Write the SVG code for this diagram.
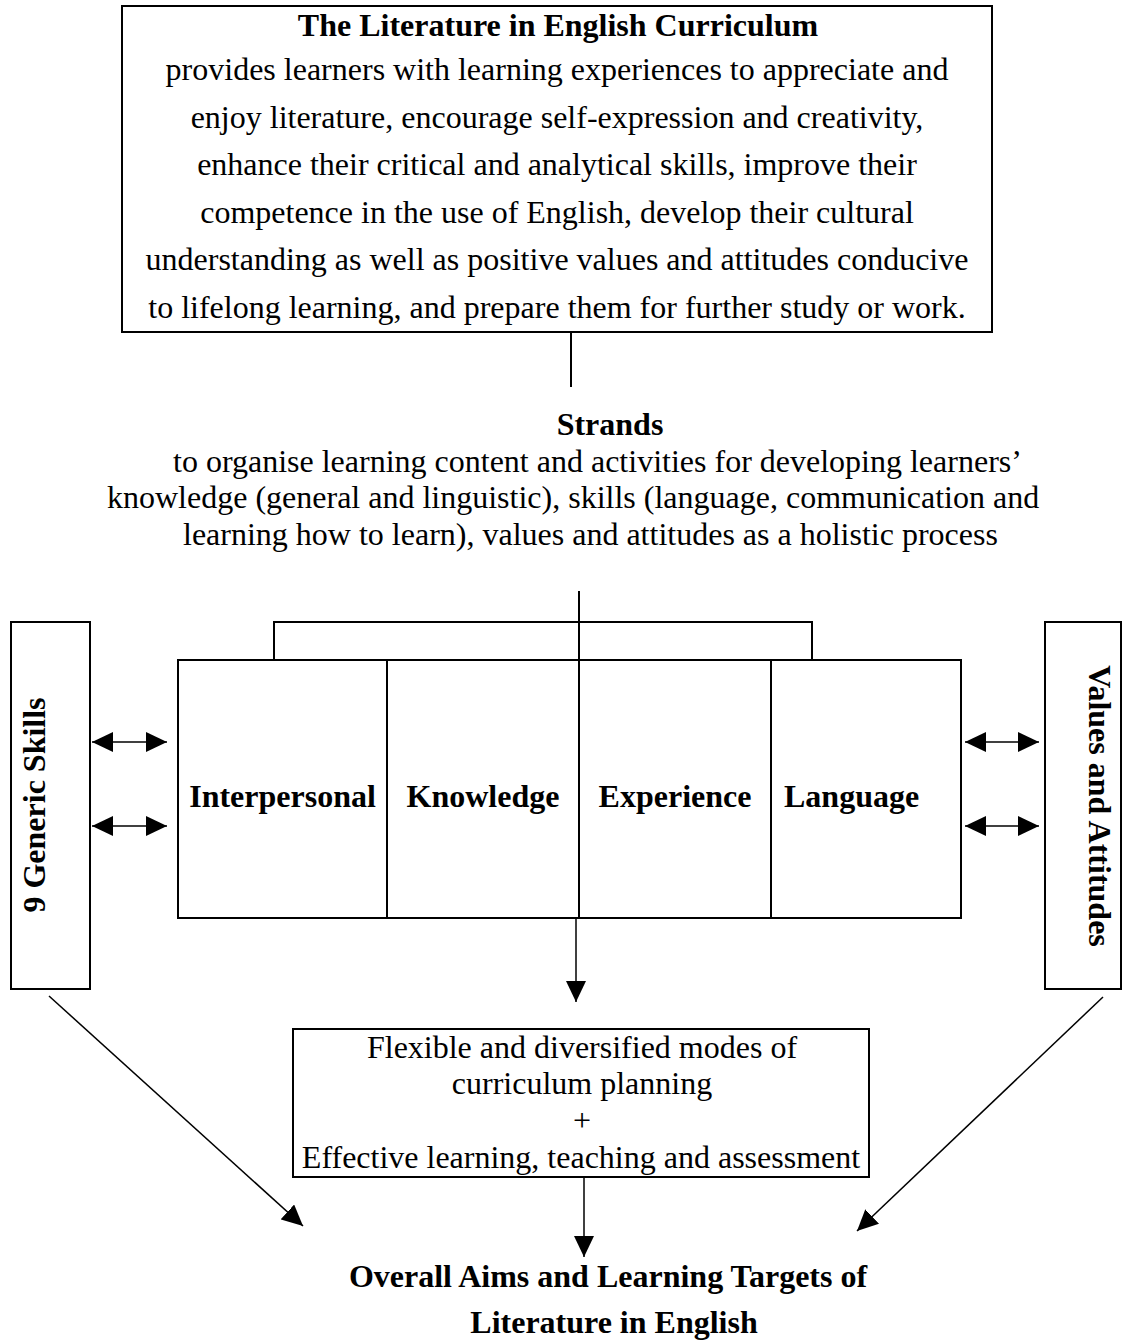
<svg xmlns="http://www.w3.org/2000/svg" width="1122" height="1341" viewBox="0 0 1122 1341">
<style>
  .box { fill: #fff; stroke: #000; stroke-width: 2; }
  .ln { fill: none; stroke: #000; stroke-width: 2; }
  .con { fill: none; stroke: #000; stroke-width: 1.5; }
  .t { font-family: "Liberation Serif", "Times New Roman", serif; font-size: 32px; fill: #000; }
  .b { font-weight: bold; }
  .m { text-anchor: middle; }
</style>
<defs>
  <marker id="ah" markerUnits="userSpaceOnUse" markerWidth="22" markerHeight="20" refX="21" refY="10" orient="auto-start-reverse" viewBox="0 0 22 20">
    <path d="M0,0 L21,10 L0,20 z" fill="#000"/>
  </marker>
</defs>
<rect width="1122" height="1341" fill="#fff"/>

<g id="curriculum">
  <rect class="box" x="122" y="6" width="870" height="326"/>
  <text class="t b m" x="558" y="36">The Literature in English Curriculum</text>
  <text class="t m" x="557" y="80">provides learners with learning experiences to appreciate and</text>
  <text class="t m" x="557" y="127.6">enjoy literature, encourage self-expression and creativity,</text>
  <text class="t m" x="557" y="175.2">enhance their critical and analytical skills, improve their</text>
  <text class="t m" x="557" y="222.8">competence in the use of English, develop their cultural</text>
  <text class="t m" x="557" y="270.4">understanding as well as positive values and attitudes conducive</text>
  <text class="t m" x="557" y="318">to lifelong learning, and prepare them for further study or work.</text>
</g>

<g id="strands">
  <text class="t b m" x="610" y="435">Strands</text>
  <text class="t" x="173" y="472">to organise learning content and activities for developing learners’</text>
  <text class="t" x="107" y="508">knowledge (general and linguistic), skills (language, communication and</text>
  <text class="t" x="183" y="545">learning how to learn), values and attitudes as a holistic process</text>
</g>

<g id="generic-skills">
  <rect class="box" x="11" y="622" width="79" height="367"/>
  <text class="t b m" x="45" y="805" transform="rotate(-90 45 805)">9 Generic Skills</text>
</g>

<g id="values-attitudes">
  <rect class="box" x="1045" y="622" width="76" height="367"/>
  <text class="t b m" x="1089" y="806" transform="rotate(90 1089 806)">Values and Attitudes</text>
</g>

<g id="strand-block">
  <rect class="box" x="178" y="660" width="783" height="258"/>
  <line class="ln" x1="387" y1="660" x2="387" y2="918"/>
  <line class="ln" x1="771" y1="660" x2="771" y2="918"/>
  <g id="interpersonal"><text class="t b m" x="282.5" y="807">Interpersonal</text></g>
  <g id="knowledge"><text class="t b m" x="483" y="807">Knowledge</text></g>
  <g id="experience"><text class="t b m" x="675" y="807">Experience</text></g>
  <g id="language"><text class="t b" x="784" y="807">Language</text></g>
</g>

<g id="modes">
  <rect class="box" x="293" y="1029" width="576" height="148"/>
  <text class="t m" x="582" y="1058">Flexible and diversified modes of</text>
  <text class="t m" x="582" y="1094">curriculum planning</text>
  <text class="t m" x="582" y="1131">+</text>
  <text class="t m" x="581" y="1168">Effective learning, teaching and assessment</text>
</g>

<g id="aims">
  <text class="t b m" x="608" y="1287">Overall Aims and Learning Targets of</text>
  <text class="t b m" x="614" y="1333">Literature in English</text>
</g>

<g id="connectors">
  <line class="ln" x1="571" y1="332" x2="571" y2="387"/>
  <polyline class="ln" points="274,660 274,622 812,622 812,660"/>
  <line class="ln" x1="579" y1="591" x2="579" y2="918"/>
  <line class="con" x1="576" y1="918" x2="576" y2="1002" marker-end="url(#ah)"/>
  <line class="con" x1="92" y1="742" x2="167" y2="742" marker-start="url(#ah)" marker-end="url(#ah)"/>
  <line class="con" x1="92" y1="826" x2="167" y2="826" marker-start="url(#ah)" marker-end="url(#ah)"/>
  <line class="con" x1="965" y1="742" x2="1039" y2="742" marker-start="url(#ah)" marker-end="url(#ah)"/>
  <line class="con" x1="965" y1="826" x2="1039" y2="826" marker-start="url(#ah)" marker-end="url(#ah)"/>
  <line class="con" x1="584" y1="1177" x2="584" y2="1257" marker-end="url(#ah)"/>
  <line class="con" x1="49" y1="996" x2="303" y2="1226" marker-end="url(#ah)"/>
  <line class="con" x1="1103" y1="997" x2="857" y2="1231" marker-end="url(#ah)"/>
</g>
</svg>
